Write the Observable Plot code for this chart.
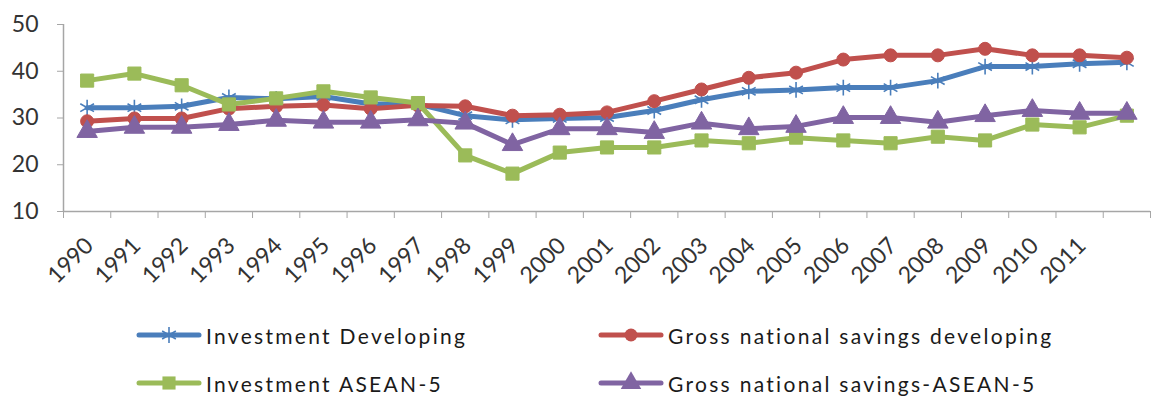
<!DOCTYPE html>
<html><head><meta charset="utf-8">
<script src="https://cdn.jsdelivr.net/npm/d3@7"></script>
<script src="https://cdn.jsdelivr.net/npm/@observablehq/plot@0.6"></script>
<style>
body{margin:0;background:#fff;font-family:Lato,sans-serif;}
#chart{position:relative;width:1151px;height:398px;overflow:hidden;background:#fff}
.leg{position:absolute;display:flex;align-items:center;height:30px;font-size:21px;letter-spacing:2.3px;color:#1a1a1a;white-space:nowrap}
.leg svg{margin-right:4px}
</style></head><body><div id="chart"></div>
<script>
const years = [1990,1991,1992,1993,1994,1995,1996,1997,1998,1999,2000,2001,2002,2003,2004,2005,2006,2007,2008,2009,2010,2011,2012];
const tickLabels = [1990,1991,1992,1993,1994,1995,1996,1997,1998,1999,2000,2001,2002,2003,2004,2005,2006,2007,2008,2009,2010,2011];
const yTicks = [10,20,30,40,50];
const investmentDeveloping = [32.2,32.2,32.5,34.4,34.1,34.6,33.0,33.0,30.5,29.6,29.9,30.1,31.6,33.9,35.7,36.0,36.5,36.5,38.0,41.0,41.0,41.6,41.9];
const savingsDeveloping    = [29.3,29.9,29.9,32.0,32.5,32.8,32.0,32.7,32.5,30.5,30.7,31.2,33.6,36.1,38.6,39.7,42.5,43.4,43.4,44.8,43.4,43.4,42.9];
const investmentASEAN5     = [38.0,39.5,37.0,32.9,34.2,35.7,34.4,33.2,22.0,18.1,22.6,23.7,23.7,25.2,24.6,25.8,25.2,24.6,26.0,25.2,28.6,28.0,30.5];
const savingsASEAN5        = [27.1,28.0,28.0,28.6,29.5,29.1,29.1,29.6,28.9,24.3,27.7,27.7,26.9,28.9,27.7,28.2,30.1,30.1,29.1,30.5,31.6,31.0,31.0];
const seriesNames = ["Investment Developing","Gross national savings developing","Investment ASEAN-5","Gross national savings-ASEAN-5"];
const seriesColors = ["#4a7ebb","#c0504d","#9bbb59","#8064a2"];
const seriesSymbols = ["asterisk","circle","square","triangle"];
const seriesValues = [investmentDeveloping, savingsDeveloping, investmentASEAN5, savingsASEAN5];

const data = seriesValues.map((vals, i) => years.map((yr, j) => ({year: yr, value: vals[j], series: seriesNames[i]})));
const boundaries = [years[0] - 0.5, ...years.map(y => y + 0.5)];

const markR = {asterisk: 7.5, circle: 6.5, square: 7.4, triangle: 7.6};
const seriesMarks = [];
data.forEach((rows, i) => {
  const c = seriesColors[i], s = seriesSymbols[i];
  seriesMarks.push(Plot.line(rows, {x: "year", y: "value", stroke: c, strokeWidth: 5, strokeLinejoin: "round", strokeLinecap: "round"}));
  if (s === "asterisk") {
    seriesMarks.push(Plot.dot(rows, {x: "year", y: "value", symbol: s, r: markR[s], stroke: c, strokeWidth: 1.6}));
  } else {
    seriesMarks.push(Plot.dot(rows, {x: "year", y: "value", symbol: s, r: markR[s], fill: c, stroke: c, strokeWidth: 1}));
  }
});

const plot = Plot.plot({
  width: 1151, height: 300,
  marginLeft: 63, marginRight: 1, marginTop: 24, marginBottom: 89,
  style: {fontFamily: "Lato, sans-serif", fontSize: "21px", color: "#404040", background: "#fff"},
  x: {type: "linear", domain: [1989.5, 2012.5], axis: null},
  y: {domain: [10, 50], axis: null},
  marks: [
    Plot.axisY({ticks: yTicks, label: null, tickSize: 6, tickPadding: 19, stroke: "#a6a6a6", fill: "#333", fontSize: 23}),
    Plot.axisX({ticks: boundaries, label: null, tickSize: 7, tickFormat: () => "", stroke: "#a6a6a6"}),
    Plot.ruleY([10], {stroke: "#a6a6a6", strokeWidth: 1.5}),
    Plot.ruleX([1989.5], {stroke: "#a6a6a6", strokeWidth: 1.5}),
    Plot.text(tickLabels, {x: d => d, frameAnchor: "bottom", text: d => String(d), rotate: -45, textAnchor: "end", lineAnchor: "top", dy: 24, dx: -4, fill: "#333", fontSize: 23}),
    ...seriesMarks
  ]
});

const chart = document.getElementById("chart");
chart.appendChild(plot);

const legendPos = [[136, 335], [598, 335], [136, 383], [598, 383]];
seriesNames.forEach((name, i) => {
  const div = document.createElement("div");
  div.className = "leg";
  div.style.left = legendPos[i][0] + "px";
  div.style.top = (legendPos[i][1] - 15) + "px";
  const svg = d3.create("svg").attr("width", 66).attr("height", 24);
  svg.append("line").attr("x1", 3).attr("x2", 63).attr("y1", 12).attr("y2", 12)
    .attr("stroke", seriesColors[i]).attr("stroke-width", 5).attr("stroke-linecap", "round");
  const symMap = {asterisk: d3.symbolAsterisk, circle: d3.symbolCircle, square: d3.symbolSquare, triangle: d3.symbolTriangle};
  const r = markR[seriesSymbols[i]];
  const p = svg.append("path").attr("transform", "translate(33,12)")
    .attr("d", d3.symbol(symMap[seriesSymbols[i]], Math.PI * r * r)());
  if (seriesSymbols[i] === "asterisk") p.attr("fill", "none").attr("stroke", seriesColors[i]).attr("stroke-width", 1.6);
  else p.attr("fill", seriesColors[i]);
  div.appendChild(svg.node());
  const span = document.createElement("span");
  span.textContent = name;
  div.appendChild(span);
  chart.appendChild(div);
});
</script>
</body></html>
